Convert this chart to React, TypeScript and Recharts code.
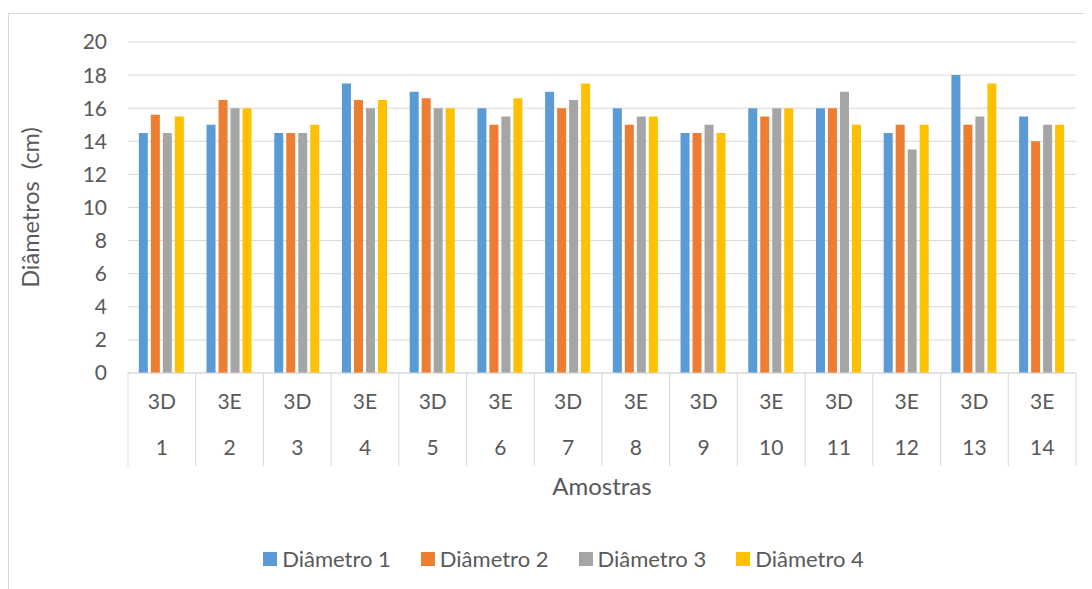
import { Bar, BarChart, CartesianGrid, Legend, XAxis, YAxis } from 'recharts';

const amostras = ['1', '2', '3', '4', '5', '6', '7', '8', '9', '10', '11', '12', '13', '14'];
const lados = ['3D', '3E', '3D', '3E', '3D', '3E', '3D', '3E', '3D', '3E', '3D', '3E', '3D', '3E'];
const diametro1 = [14.5, 15, 14.5, 17.5, 17, 16, 17, 16, 14.5, 16, 16, 14.5, 18, 15.5];
const diametro2 = [15.6, 16.5, 14.5, 16.5, 16.6, 15, 16, 15, 14.5, 15.5, 16, 15, 15, 14];
const diametro3 = [14.5, 16, 14.5, 16, 16, 15.5, 16.5, 15.5, 15, 16, 17, 13.5, 15.5, 15];
const diametro4 = [15.5, 16, 15, 16.5, 16, 16.6, 17.5, 15.5, 14.5, 16, 15, 15, 17.5, 15];
const yTicks = [0, 2, 4, 6, 8, 10, 12, 14, 16, 18, 20];

const series = [
    { key: 'd1', name: 'Diâmetro 1', color: '#5b9bd5' },
    { key: 'd2', name: 'Diâmetro 2', color: '#ed7d31' },
    { key: 'd3', name: 'Diâmetro 3', color: '#a5a5a5' },
    { key: 'd4', name: 'Diâmetro 4', color: '#ffc000' },
];

const data = amostras.map((a, i) => ({
    amostra: a,
    lado: lados[i],
    d1: diametro1[i],
    d2: diametro2[i],
    d3: diametro3[i],
    d4: diametro4[i],
}));

const FONT = 'Lato, "Noto Sans", sans-serif';
const TEXT = '#595959';
const GRID = '#d9d9d9';

// eixo de categorias em dois níveis (lado em cima, número da amostra em baixo)
function CategoryTick({ x, y, payload, index }: any) {
    const half = payload?.offset ?? 33.8;
    const i = index ?? 0;
    return (
        <g>
            <line x1={x - half} x2={x - half} y1={y} y2={y + 93} stroke={GRID} />
            {i === amostras.length - 1 && <line x1={x + half} x2={x + half} y1={y} y2={y + 93} stroke={GRID} />}
            <text x={x} y={y + 31} textAnchor="middle" dominantBaseline="middle" fontSize={21} fill={TEXT} fontFamily={FONT}>
                {lados[i]}
            </text>
            <text x={x} y={y + 77} textAnchor="middle" dominantBaseline="middle" fontSize={21} fill={TEXT} fontFamily={FONT}>
                {payload.value}
            </text>
        </g>
    );
}

function YTitle({ viewBox }: any) {
    const cx = viewBox.x + 24;
    const cy = viewBox.y + viewBox.height / 2;
    return (
        <text x={cx} y={cy} transform={`rotate(-90 ${cx} ${cy})`} textAnchor="middle" dominantBaseline="middle"
            fontSize={23.5} fill={TEXT} fontFamily={FONT} style={{ whiteSpace: 'pre' }}>
            Diâmetros  (cm)
        </text>
    );
}

function XTitle({ viewBox }: any) {
    return (
        <text x={viewBox.x + viewBox.width / 2} y={viewBox.y + 116} textAnchor="middle" dominantBaseline="middle"
            fontSize={24} fill={TEXT} fontFamily={FONT}>
            Amostras
        </text>
    );
}

function LegendBox() {
    return (
        <div style={{ display: 'flex', justifyContent: 'center', gap: 30, paddingLeft: 34, fontFamily: FONT, fontSize: 22, color: TEXT }}>
            {series.map((s) => (
                <div key={s.key} style={{ display: 'flex', alignItems: 'center', gap: 5 }}>
                    <span style={{ width: 14, height: 14, background: s.color, display: 'inline-block' }} />
                    <span>{s.name}</span>
                </div>
            ))}
        </div>
    );
}

export default function App() {
    return (
        <div style={{ marginTop: 5, width: 1084, height: 590, borderTop: `1px solid ${GRID}`, borderLeft: `1px solid ${GRID}`, background: '#fff' }}>
            <BarChart width={1075} height={576} data={data} margin={{ top: 28, right: 8, left: 0, bottom: 87 }}
                barCategoryGap="16%" barGap={3}>
                <CartesianGrid stroke={GRID} vertical={false} />
                <XAxis dataKey="amostra" interval={0} tickLine={false} tickSize={0} tickMargin={0} height={130}
                    axisLine={{ stroke: GRID }} tick={<CategoryTick />} label={{ content: <XTitle /> }} />
                <YAxis domain={[0, 20]} ticks={yTicks} width={119} axisLine={false} tickLine={false} tickSize={0}
                    tickMargin={21} tick={{ fontSize: 21, fill: TEXT, fontFamily: FONT }} label={{ content: <YTitle /> }} />
                <Legend layout="horizontal" verticalAlign="middle" align="center" content={<LegendBox />}
                    wrapperStyle={{ top: 531, left: 0, width: 1075 }} />
                {series.map((s) => (
                    <Bar key={s.key} dataKey={s.key} name={s.name} fill={s.color} isAnimationActive={false} />
                ))}
            </BarChart>
        </div>
    );
}
